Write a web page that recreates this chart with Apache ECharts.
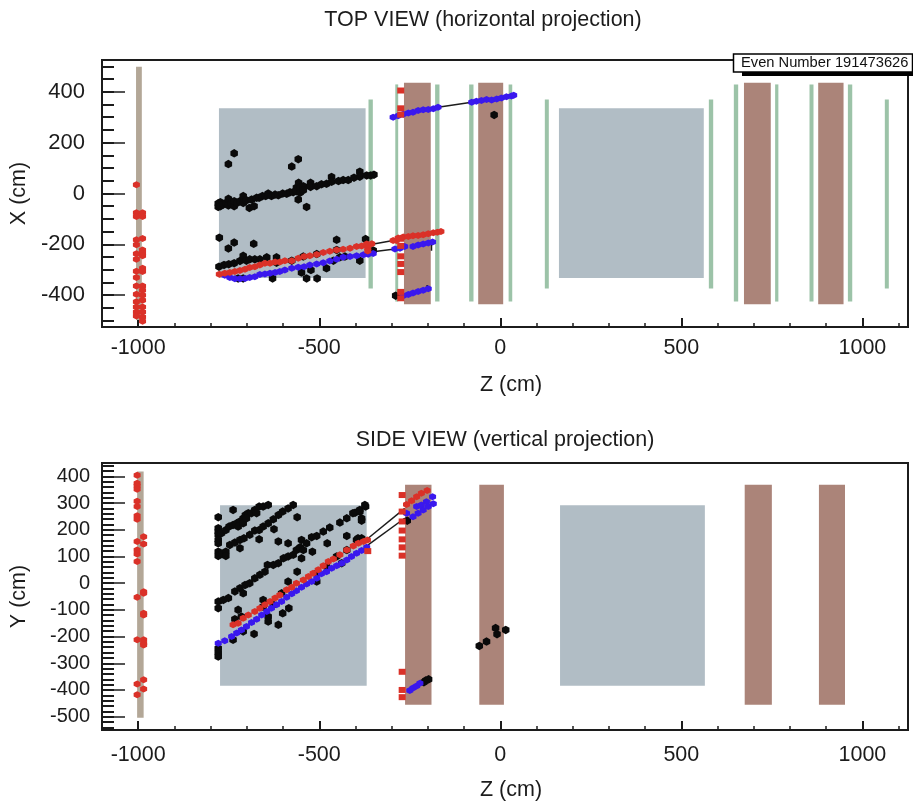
<!DOCTYPE html>
<html><head><meta charset="utf-8">
<style>html,body{margin:0;padding:0;background:#fff}#c{width:913px;height:802px}</style>
<script src="https://cdn.jsdelivr.net/npm/echarts@6/dist/echarts.min.js"></script>
</head><body><div id="c"></div>
<script>
// ---- axis ticks ----
const zLabels=[-1000,-500,0,500,1000];
const zMinor=[-1100,-1000,-900,-800,-700,-600,-500,-400,-300,-200,-100,0,100,200,300,400,500,600,700,800,900,1000,1100];
const xLabels=[-400,-200,0,200,400];
const xMinor=[-500,-450,-400,-350,-300,-250,-200,-150,-100,-50,0,50,100,150,200,250,300,350,400,450,500];
const yLabels=[-500,-400,-300,-200,-100,0,100,200,300,400];
const yMinor=[-540,-520,-500,-480,-460,-440,-420,-400,-380,-360,-340,-320,-300,-280,-260,-240,-220,-200,-180,-160,-140,-120,-100,-80,-60,-40,-20,0,20,40,60,80,100,120,140,160,180,200,220,240,260,280,300,320,340,360,380,400,420,440];

// ---- detector blocks: [z0,z1,v0,v1] ----
const topTan=[[-1006,-990,498,-497]];
const topGray=[[-777,-372,335,-332],[162,562,335,-332]];
const topGreen=[[-364,-352,370,-374],[-290,-282,429,-425],[-180,-168,429,-425],[-86,-74,429,-425],[23,33,429,-425],[123,134,370,-374],[576,588,370,-374],[645,657,429,-425],[759,768,429,-425],[854,865,429,-425],[960,972,429,-425],[1062,1073,370,-374]];
const topBrown=[[-266,-192,436,-436],[-61,8,436,-436],[673,747,436,-436],[878,948,436,-436]];
const sideTan=[[-1003,-985,418,-504]];
const sideGray=[[-774,-369,292,-384],[165,565,292,-384]];
const sideBrown=[[-263,-190,369,-455],[-58,10,369,-455],[675,750,369,-455],[880,952,369,-455]];

// ---- TOP VIEW hits ----
const topBlack=[[-779,-39],[-779,-53],[-773,-34],[-773,-50],[-765,-43],[-758,-37],[-751,-21],[-751,-47],[-742,-39],[-735,-50],[-735,-30],[-727,-37],[-719,-30],[-710,-10],[-710,-37],[-701,-27],[-693,-57],[-687,-24],[-680,-50],[-673,-17],[-666,-17],[-657,-10],[-648,-10],[-641,0],[-632,-10],[-622,-4],[-613,-7],[-601,0],[-590,-1],[-581,5],[-572,5],[-563,23],[-563,9],[-557,42],[-553,23],[-553,3],[-544,29],[-544,13],[-524,42],[-524,26],[-507,29],[-494,36],[-480,38],[-466,65],[-466,46],[-447,49],[-434,53],[-420,53],[-404,62],[-388,86],[-388,66],[-369,71],[-358,71],[-349,74],
[-735,158],[-751,116],[-558,135],[-576,106],[-558,-24],[-535,-53],
[-776,-174],[-751,-216],[-735,-193],[-681,-198],[-452,-182],[-372,-179],
[-777,-288],[-763,-281],[-750,-278],[-735,-274],[-719,-265],[-710,-245],[-701,-264],[-692,-259],[-678,-259],[-664,-259],[-645,-251],[-618,-251],[-618,-272],[-576,-264],[-544,-248],[-507,-238],[-452,-222],[-429,-248],[-388,-264],[-351,-224],
[-724,-334],[-710,-334],[-629,-334],[-549,-311],[-535,-334],[-523,-301],[-506,-334],[-480,-294],[-461,-264],[-443,-251],
[-289,-402],[-17,309]];
const topRed=[[-1005,34],[-1005,-76],[-1005,-90],[-988,-76],[-988,-90],[-1005,-182],[-988,-177],[-1005,-202],[-988,-222],[-988,-235],[-988,-245],[-1005,-237],[-1005,-259],[-988,-294],[-988,-307],[-1005,-306],[-1005,-330],[-988,-364],[-1005,-364],[-988,-380],[-1005,-396],[-988,-400],[-988,-420],[-1005,-426],[-988,-446],[-1005,-446],[-1005,-466],[-988,-466],[-1005,-482],[-988,-486],[-988,-502],
[-776,-318],[-761,-314],[-747,-311],[-733,-307],[-719,-303],[-705,-298],[-692,-291],[-678,-288],[-664,-281],[-650,-274],[-636,-274],[-622,-269],[-609,-269],[-595,-264],[-576,-264],[-558,-255],[-542,-248],[-526,-245],[-507,-240],[-489,-232],[-471,-227],[-452,-222],[-434,-219],[-415,-215],[-397,-208],[-383,-206],[-369,-199],[-355,-198],[-366,-215],[-366,-226],
[-296,-185],[-287,-185],[-282,-175],[-268,-171],[-254,-169],[-241,-166],[-227,-165],[-213,-162],[-199,-158],[-185,-154],[-174,-152],[-164,-149]];
const topRedSquares=[[-275,405],[-275,335],[-275,310],[-275,-178],[-275,-206],[-275,-247],[-275,-277],[-275,-309],[-275,-387],[-275,-412]];
const topBlue=[[-761,-321],[-747,-330],[-733,-335],[-719,-335],[-705,-334],[-692,-330],[-678,-327],[-664,-319],[-650,-317],[-636,-314],[-622,-311],[-609,-307],[-595,-301],[-576,-294],[-558,-290],[-542,-288],[-526,-281],[-507,-277],[-489,-272],[-471,-265],[-452,-259],[-434,-251],[-415,-248],[-397,-245],[-378,-241],[-365,-239],[-351,-236],
[-291,-218],[-277,-215],[-264,-208],[-241,-208],[-227,-203],[-213,-199],[-199,-195],[-187,-191],
[-296,300],[-282,306],[-268,312],[-254,317],[-241,320],[-227,326],[-213,329],[-199,330],[-185,333],[-172,339],
[-79,359],[-66,363],[-52,366],[-38,370],[-24,368],[-10,372],[3,376],[17,380],[31,383],[37,386],
[-268,-402],[-254,-397],[-241,-391],[-227,-385],[-213,-380],[-199,-375]];
const topLines=[[[-346,-198],[-296,-185]],[[-346,-228],[-291,-218]],[[-172,339],[-79,359]],[[-288,-402],[-268,-402]],[[-190,-195],[-190,-225]],[[-202,-360],[-202,-378]]];

// ---- SIDE VIEW hits ----
const sideBlack=[[-779,247],[-779,206],[-779,193],[-779,181],[-779,162],[-779,149],[-779,118],[-779,102],[-767,109],[-758,118],[-758,102],[-770,187],[-758,199],[-749,212],[-738,218],[-738,274],[-728,224],[-719,231],[-710,243],[-704,255],[-696,262],[-687,262],[-678,274],[-666,287],[-655,287],[-641,293],[-724,212],[-710,224],[-701,243],[-673,262],
[-747,143],[-733,152],[-719,162],[-719,131],[-708,168],[-692,181],[-678,197],[-666,199],[-666,164],[-655,212],[-641,224],[-627,239],[-625,202],[-613,255],[-601,268],[-586,280],[-572,293],[-561,247],
[-779,-69],[-779,-94],[-765,-63],[-751,-56],[-733,-31],[-719,-19],[-710,-38],[-705,-7],[-692,0],[-678,18],[-664,31],[-650,43],[-643,68],[-627,68],[-613,75],[-599,93],[-586,100],[-572,106],[-563,124],[-553,134],[-549,162],[-544,124],[-549,93],[-535,149],[-521,172],[-507,177],[-489,193],[-471,208],[-443,227],[-424,243],[-401,264],[-388,274],[-372,287],[-383,243],[-478,149],[-424,177],[-586,149],[-613,156],[-561,43],[-519,118],
[-733,-135],[-724,-100],[-715,-125],[-710,-181],[-655,-63],[-655,-88],[-641,-125],[-641,-144],[-627,-81],[-613,-156],[-601,-113],[-584,-94],[-604,-38],[-586,6],[-680,-190],[-738,-212],[-507,37],[-507,6],[-480,62],[-452,100],[-438,75],[-424,124],[-397,162],[-383,168],[-779,-244],[-779,-260],[-779,-275],
[-407,262],[-388,268],[-374,293],[-383,234],[-393,168],[-383,162],
[-257,234],[-211,-371],[-206,-365],[-198,-360],[-58,-235],[-38,-219],[-13,-168],[-9,-191],[15,-175]];
const sideRed=[[-1003,404],[-1003,374],[-1003,364],[-1003,352],[-1003,307],[-1003,287],[-1003,252],[-1003,239],[-1003,156],[-985,174],[-985,147],[-1003,124],[-1003,109],[-1003,81],[-1003,-53],[-985,-32],[-985,-38],[-985,-113],[-985,-119],[-1003,-212],[-985,-212],[-985,-225],[-985,-232],[-985,-362],[-1003,-378],[-985,-396],[-1003,-418],
[-738,-156],[-724,-150],[-710,-131],[-696,-119],[-678,-106],[-664,-94],[-650,-81],[-636,-69],[-622,-56],[-609,-44],[-590,-25],[-576,-15],[-563,0],[-544,12],[-530,25],[-517,37],[-503,50],[-489,65],[-475,81],[-461,90],[-443,106],[-424,124],[-406,139],[-392,149],[-378,156],[-367,162],
[-259,295],[-245,309],[-231,324],[-218,337],[-202,347]];
const sideRedSquares=[[-366,120],[-271,330],[-271,268],[-271,231],[-271,197],[-271,164],[-271,134],[-271,103],[-271,-332],[-271,-400],[-271,-427]];
const sideBlue=[[-779,-225],[-761,-216],[-742,-200],[-728,-187],[-715,-175],[-701,-162],[-687,-147],[-673,-135],[-659,-119],[-645,-106],[-632,-94],[-618,-81],[-604,-69],[-590,-53],[-576,-40],[-563,-28],[-549,-15],[-535,-3],[-521,6],[-507,18],[-494,35],[-480,43],[-466,56],[-452,65],[-438,75],[-424,87],[-411,100],[-397,112],[-383,122],[-369,134],
[-259,262],[-231,287],[-218,293],[-204,305],[-187,324],
[-241,249],[-227,262],[-213,274],[-199,287],[-185,297],
[-250,-402],[-241,-393],[-231,-385],[-222,-375]];
const sideLines=[[[-365,168],[-264,280]],[[-365,143],[-264,243]]];

// ---- palette ----
const colTan='#b3a797',colGray='#b1bdc5',colGreen='#9cc3a8',colBrown='#ab8479',colRed='#da3128',colBlue='#3a18ee',colInk='#1c1c1c';
const font='"Liberation Sans",Arial,sans-serif';
const blob='path://M0,-10L8,-5L8,5L0,10L-8,5L-8,-5Z';

function blocks(data,color,gi){
  return {type:'custom',xAxisIndex:gi*2,yAxisIndex:gi*2,data,z:1,silent:true,
    encode:{x:[0,1],y:[2,3]},
    renderItem(p,api){
      const a=api.coord([api.value(0),api.value(2)]),b=api.coord([api.value(1),api.value(3)]);
      return {type:'rect',shape:{x:a[0],y:a[1],width:b[0]-a[0],height:b[1]-a[1]},style:{fill:color}};
    }};
}
function hits(data,color,gi,symbol,size,z){
  return {type:'scatter',xAxisIndex:gi*2,yAxisIndex:gi*2,data,symbol,symbolSize:size,z,silent:true,
    itemStyle:{color,opacity:1},animation:false};
}
function segs(list,gi){
  return list.map(d=>({type:'line',xAxisIndex:gi*2,yAxisIndex:gi*2,data:d,symbol:'none',z:2,silent:true,
    lineStyle:{color:colInk,width:1.5},animation:false}));
}
function xAxes(gi,nameGap,margin){
  const base={type:'value',gridIndex:gi,min:-1100,max:1126,splitLine:{show:false},position:'bottom',
    axisLine:{onZero:false,lineStyle:{color:colInk,width:2}}};
  return [
    {...base,name:'Z (cm)',nameLocation:'middle',nameGap,
     nameTextStyle:{fontFamily:font,fontSize:21.5,color:colInk,padding:[0,0,0,12]},
     axisLabel:{customValues:zLabels,formatter:v=>String(v),fontFamily:font,fontSize:21.5,color:colInk,margin},
     axisTick:{customValues:zLabels,inside:true,length:9,lineStyle:{color:colInk,width:2}}},
    {...base,axisLabel:{show:false},
     axisTick:{customValues:zMinor,inside:true,length:4,lineStyle:{color:colInk,width:1.5}}}
  ];
}
function yAxes(gi,min,max,labels,minor,name,gap,margin,fs){
  const base={type:'value',gridIndex:gi,min,max,splitLine:{show:false},position:'left',
    axisLine:{onZero:false,lineStyle:{color:colInk,width:2}}};
  return [
    {...base,name,nameLocation:'middle',nameGap:gap,
     nameTextStyle:{fontFamily:font,fontSize:21.5,color:colInk},
     axisLabel:{customValues:labels,formatter:v=>String(v),fontFamily:font,fontSize:fs,color:colInk,margin},
     axisTick:{customValues:labels,inside:true,length:23,lineStyle:{color:colInk,width:1.5}}},
    {...base,axisLabel:{show:false},
     axisTick:{customValues:minor,inside:true,length:12,lineStyle:{color:colInk,width:2}}}
  ];
}
const option={
  animation:false,backgroundColor:'#fff',
  title:[
    {text:'TOP VIEW (horizontal projection)',left:478,top:4,textAlign:'center',textStyle:{fontFamily:font,fontSize:21.5,fontWeight:'normal',color:colInk}},
    {text:'SIDE VIEW (vertical projection)',left:500,top:424,textAlign:'center',textStyle:{fontFamily:font,fontSize:21.5,fontWeight:'normal',color:colInk}}
  ],
  grid:[
    {left:102,top:60,width:806,height:267,show:true,borderColor:colInk,borderWidth:2,backgroundColor:'transparent'},
    {left:102,top:463,width:806,height:267,show:true,borderColor:colInk,borderWidth:2,backgroundColor:'transparent'}
  ],
  xAxis:[...xAxes(0,47,10),...xAxes(1,49,14)],
  yAxis:[...yAxes(0,-525,525,xLabels,xMinor,'X (cm)',66,17,22),...yAxes(1,-550,450,yLabels,yMinor,'Y (cm)',72,12,20)],
  series:[
    blocks(topTan,colTan,0),blocks(topGray,colGray,0),blocks(topGreen,colGreen,0),blocks(topBrown,colBrown,0),
    blocks(sideTan,colTan,1),blocks(sideGray,colGray,1),blocks(sideBrown,colBrown,1),
    ...segs(topLines,0),...segs(sideLines,1),
    hits(topBlack,'#0a0a0a',0,blob,[7.5,8.5],3),
    hits(topBlue,colBlue,0,blob,[7,7],4),
    hits(topRed,colRed,0,blob,[7,7],5),
    hits(topRedSquares,colRed,0,'rect',[7,6],5),
    hits(sideBlack,'#0a0a0a',1,blob,[7.5,8.5],3),
    hits(sideBlue,colBlue,1,blob,[7,7],4),
    hits(sideRed,colRed,1,blob,[7,7],5),
    hits(sideRedSquares,colRed,1,'rect',[7,6],5)
  ],
  graphic:[
    {type:'rect',z:50,shape:{x:742,y:60,width:171,height:16},style:{fill:'#000'}},
    {type:'rect',z:51,shape:{x:733.5,y:54,width:179,height:18},style:{fill:'#fff',stroke:'#000',lineWidth:1.5}},
    {type:'text',z:52,style:{x:741,y:63,text:'Even Number 191473626',fill:'#111',font:'14.7px '+font,textVerticalAlign:'middle'}}
  ]
};
echarts.init(document.getElementById('c'),null,{renderer:'canvas'}).setOption(option);
</script></body></html>
